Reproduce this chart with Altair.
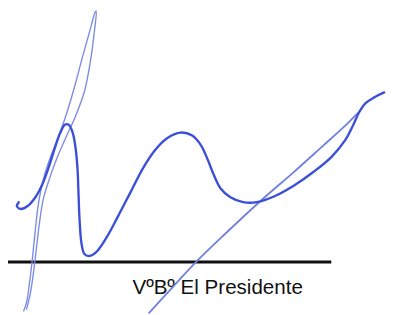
import altair as alt
import pandas as pd

# Signature main stroke (dark blue)
main_x = [19, 17, 21, 28, 36, 43, 50, 56, 61, 66, 70, 74, 77, 79, 80, 81, 83, 86, 91, 98, 108, 120, 133, 146, 158, 170, 184, 196, 205, 212, 218, 225, 235, 248, 262, 280, 300, 320, 338, 352, 360, 366, 373, 382, 392]
main_y = [203, 207, 210, 207, 198, 185, 166, 147, 133, 124, 124, 132, 148, 170, 195, 220, 245, 256, 258, 254, 240, 218, 193, 168, 150, 138, 132, 135, 145, 160, 175, 189, 198, 203, 203, 197, 186, 172, 157, 140, 125, 112, 102, 96, 91]

# Tall thin loop (light blue)
loop_x = [24, 27, 30, 33, 36, 39, 44, 51, 60, 68, 76, 84, 91, 97, 98, 96, 92, 86, 77, 68, 58, 50, 44, 40, 37, 34, 31, 27]
loop_y = [314, 305, 285, 260, 230, 205, 180, 158, 135, 112, 85, 55, 30, 9, 8, 30, 60, 90, 115, 135, 158, 180, 200, 225, 250, 275, 295, 312]

# Long diagonal stroke (medium blue)
diag_x = [152, 175, 200, 230, 270, 300, 330, 350, 366]
diag_y = [316, 291, 264, 235, 198, 172, 145, 127, 111]

# Signature line
rule_x = [0, 338]
rule_y = [264, 264]

label_text = ["VºBº El Presidente"]
label_x = [135]
label_y = [297]

def frame(xs, ys, name):
    return pd.DataFrame({"x": xs, "y": ys, "i": range(len(xs)), "s": name})

X = alt.Scale(domain=[8, 403])
Y = alt.Scale(domain=[8, 315], reverse=True)

def stroke(df, color, width, opacity=1.0):
    return alt.Chart(df).mark_line(
        color=color, strokeWidth=width, interpolate="catmull-rom",
        opacity=opacity, strokeCap="round", clip=False
    ).encode(
        x=alt.X("x:Q", scale=X, axis=None),
        y=alt.Y("y:Q", scale=Y, axis=None),
        order="i:Q",
    )

loop = stroke(frame(loop_x, loop_y, "loop"), "#7d8ce3", 1.4)
diag = stroke(frame(diag_x, diag_y, "diag"), "#6f7fe0", 1.8)
main = stroke(frame(main_x, main_y, "main"), "#3b4fd8", 2.4)
rule = alt.Chart(frame(rule_x, rule_y, "rule")).mark_line(color="#111111", strokeWidth=3).encode(
    x=alt.X("x:Q", scale=X, axis=None),
    y=alt.Y("y:Q", scale=Y, axis=None),
    order="i:Q",
)
text = alt.Chart(pd.DataFrame({"x": label_x, "y": label_y, "t": label_text})).mark_text(
    align="left", baseline="alphabetic", font="Liberation Sans", fontSize=21, color="#111111"
).encode(
    x=alt.X("x:Q", scale=X, axis=None),
    y=alt.Y("y:Q", scale=Y, axis=None),
    text="t:N",
)

chart = alt.layer(rule, text, loop, diag, main).properties(
    width=395, height=307, padding=0, autosize=alt.AutoSizeParams(type="none"),
    background="white",
).configure_view(stroke=None)

chart.save("out.html", embed_options={"renderer": "svg", "actions": False})
